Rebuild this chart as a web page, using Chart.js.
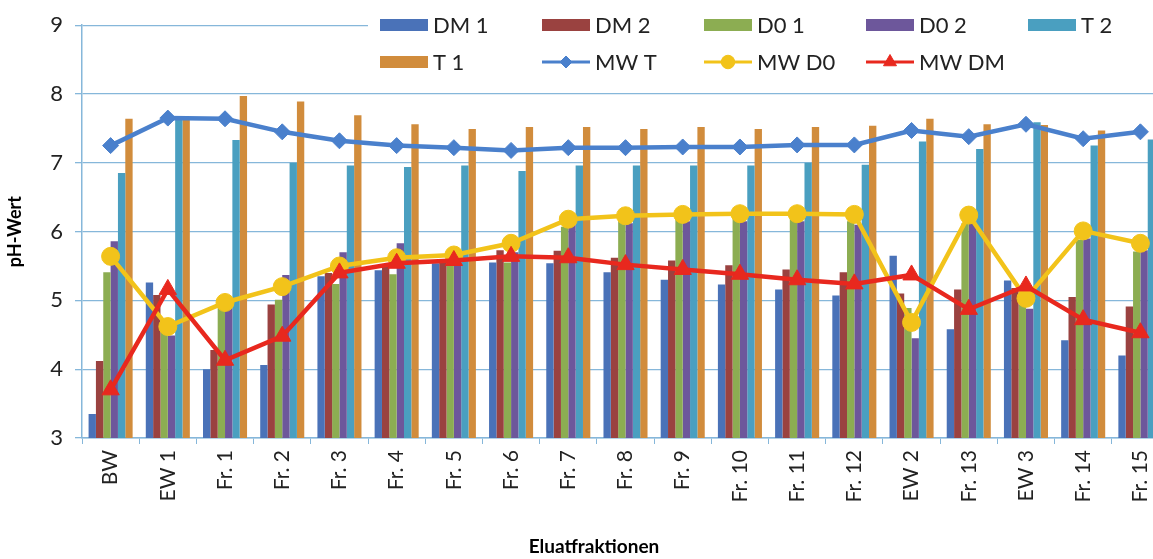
<!DOCTYPE html>
<html>
<head>
<meta charset="utf-8">
<script src="https://cdn.jsdelivr.net/npm/chart.js@4"></script>
<style>
  html, body { margin: 0; padding: 0; background: #fff; overflow: hidden; }
  #wrap { width: 1180px; height: 559px; }
</style>
</head>
<body>
<div id="wrap"><canvas id="chart" width="1180" height="559"></canvas></div>
<script>
const labels = ['BW', 'EW 1', 'Fr. 1', 'Fr. 2', 'Fr. 3', 'Fr. 4', 'Fr. 5', 'Fr. 6', 'Fr. 7', 'Fr. 8',
    'Fr. 9', 'Fr. 10', 'Fr. 11', 'Fr. 12', 'EW 2', 'Fr. 13', 'EW 3', 'Fr. 14', 'Fr. 15'];

const dm1 = [3.35, 5.26, 4.00, 4.06, 5.35, 5.44, 5.54, 5.55, 5.54, 5.41, 5.30, 5.23, 5.16, 5.07, 5.65, 4.58, 5.29, 4.42, 4.20];
const dm2 = [4.12, 5.08, 4.28, 4.94, 5.40, 5.50, 5.60, 5.73, 5.72, 5.62, 5.58, 5.51, 5.45, 5.41, 5.10, 5.16, 5.18, 5.05, 4.91];
const d01 = [5.41, 4.65, 4.95, 5.01, 5.24, 5.38, 5.50, 5.55, 6.07, 6.17, 6.20, 6.22, 6.22, 6.15, 4.89, 6.12, 4.94, 5.88, 5.71];
const d02 = [5.86, 4.49, 4.90, 5.37, 5.70, 5.83, 5.65, 5.70, 6.10, 6.12, 6.15, 6.15, 6.15, 6.10, 4.45, 6.15, 4.88, 5.90, 5.73];
const t2 = [6.85, 7.65, 7.33, 7.00, 6.96, 6.94, 6.96, 6.88, 6.96, 6.96, 6.96, 6.96, 7.00, 6.97, 7.31, 7.20, 7.59, 7.25, 7.34];
const t1 = [7.64, 7.63, 7.97, 7.89, 7.69, 7.56, 7.49, 7.52, 7.52, 7.49, 7.52, 7.49, 7.52, 7.54, 7.64, 7.56, 7.55, 7.47, 7.50];
const mwT = [7.25, 7.65, 7.64, 7.45, 7.32, 7.25, 7.22, 7.18, 7.22, 7.22, 7.23, 7.23, 7.26, 7.26, 7.47, 7.38, 7.56, 7.35, 7.45];
const mwD0 = [5.64, 4.62, 4.97, 5.20, 5.50, 5.62, 5.66, 5.83, 6.18, 6.23, 6.25, 6.26, 6.26, 6.25, 4.68, 6.24, 5.03, 6.01, 5.83];
const mwDM = [3.70, 5.16, 4.13, 4.48, 5.40, 5.54, 5.58, 5.64, 5.62, 5.52, 5.45, 5.38, 5.30, 5.24, 5.37, 4.87, 5.21, 4.72, 4.53];

const gridBlue = '#86b7da';

const bar = (label, data, color) => ({
    type: 'bar', label, data, backgroundColor: color, order: 10,
    categoryPercentage: 0.77, barPercentage: 1.0
});
const line = (label, data, color, style, radius, order) => ({
    type: 'line', label, data, borderColor: color, backgroundColor: color,
    borderWidth: 4.5, pointStyle: style, pointRadius: radius, pointBorderWidth: 1,
    pointBorderColor: color, order
});

// legend in a fixed 5-column grid over a white box, plus the x title
// (the original image is cropped, so the title sits left of the axis centre)
const extras = {
    id: 'extras',
    afterDraw(chart) {
        const ctx = chart.ctx;
        ctx.save();
        ctx.fillStyle = '#fff';
        ctx.fillRect(368, 2, chart.width - 368, 80);
        ctx.font = '22px Lato';
        ctx.textBaseline = 'middle';
        chart.data.datasets.forEach((ds, i) => {
            const x = 380 + (i % 5) * 162;
            const y = 25 + Math.floor(i / 5) * 37;
            if (ds.type === 'line') {
                ctx.strokeStyle = ds.borderColor;
                ctx.fillStyle = ds.backgroundColor;
                ctx.lineWidth = 3;
                ctx.beginPath();
                ctx.moveTo(x, y);
                ctx.lineTo(x + 48, y);
                ctx.stroke();
                ctx.lineWidth = 1;
                Chart.helpers.drawPoint(ctx, {
                    pointStyle: ds.pointStyle, radius: ds.pointRadius * 0.75,
                    borderWidth: 1, rotation: 0
                }, x + 24, y);
            } else {
                ctx.fillStyle = ds.backgroundColor;
                ctx.fillRect(x, y - 6, 48, 12);
            }
            ctx.fillStyle = '#222';
            ctx.fillText(ds.label, x + 53, y + 1);
        });
        ctx.font = 'bold 19px Lato';
        ctx.fillStyle = '#000';
        ctx.textAlign = 'center';
        ctx.fillText('Eluatfraktionen', 594, 547);
        ctx.restore();
    }
};

new Chart(document.getElementById('chart'), {
    data: {
        labels,
        datasets: [
            bar('DM 1', dm1, '#4a72b8'),
            bar('DM 2', dm2, '#9a4240'),
            bar('D0 1', d01, '#8cad52'),
            bar('D0 2', d02, '#6d579b'),
            bar('T 2', t2, '#4a9fc0'),
            bar('T 1', t1, '#d18c3c'),
            line('MW T', mwT, '#4a80cc', 'rectRot', 8, 3),
            line('MW D0', mwD0, '#f2c31a', 'circle', 9, 2),
            line('MW DM', mwDM, '#e8281e', 'triangle', 10, 1)
        ]
    },
    options: {
        responsive: false,
        animation: false,
        layout: { padding: { top: 25, right: 9, left: 0, bottom: 0 } },
        plugins: {
            legend: { display: false },
            tooltip: { enabled: false }
        },
        scales: {
            x: {
                offset: true,
                grid: { display: true, drawOnChartArea: false, offset: true, color: gridBlue, tickLength: 6 },
                border: { display: true, color: gridBlue, width: 1.5 },
                ticks: {
                    minRotation: 90, maxRotation: 90, autoSkip: false, padding: 6,
                    color: '#222', font: { family: 'Lato', size: 21 }
                },
                afterFit: (s) => { s.height = 121; }
            },
            y: {
                min: 3, max: 9,
                grid: { color: gridBlue, tickLength: 7, lineWidth: 1.3 },
                border: { display: true, color: gridBlue, width: 1.5 },
                ticks: {
                    stepSize: 1, padding: 12, color: '#222',
                    font: { family: 'Lato', size: 22 }
                },
                title: {
                    display: true, text: 'pH-Wert', color: '#000', padding: 4,
                    font: { family: 'Lato', size: 18, weight: 'bold' }
                },
                afterFit: (s) => { s.width = 82; }
            }
        }
    },
    plugins: [extras]
});
</script>
</body>
</html>
